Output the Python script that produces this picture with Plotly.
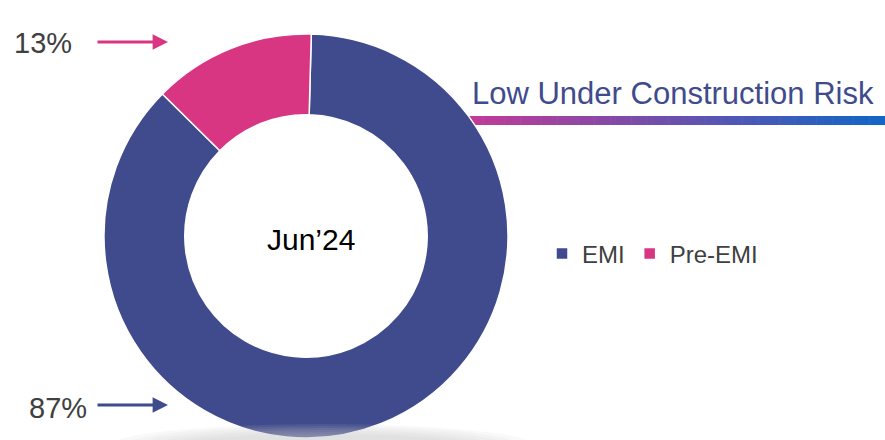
import plotly.graph_objects as go

# dados
labels = ["EMI", "Pre-EMI"]
values = [87, 13]
colors = ["#3F4B8C", "#D83682"]
centro = "Jun\u201924"
titulo = "Low Under Construction Risk"

W, H = 885, 440
fonte = "Liberation Sans, Arial, sans-serif"

fig = go.Figure()
fig.add_trace(go.Pie(
    labels=labels, values=values, hole=0.6, sort=False,
    direction="clockwise", rotation=1.5,
    marker=dict(colors=colors, line=dict(color="white", width=1.5)),
    textinfo="none", hoverinfo="label+percent",
    domain=dict(x=[104 / W, 508 / W], y=[2 / H, 406 / H]),
))

def px(x, y):
    return x / W, 1 - y / H

def texto(x, y, t, size, cor):
    ax_, ay_ = px(x, y)
    fig.add_annotation(x=ax_, y=ay_, xref="paper", yref="paper", text=t, showarrow=False,
                       xanchor="center", yanchor="middle",
                       font=dict(size=size, color=cor, family=fonte))

# texto central
texto(311, 239, centro, 30, "black")

# rótulos de porcentagem com setas
pos_rotulos = {"Pre-EMI": (43, 43), "EMI": (58, 408)}
pos_setas = {"Pre-EMI": 42, "EMI": 405}
for lab, val, cor in zip(labels, values, colors):
    tx, ty = pos_rotulos[lab]
    texto(tx, ty, f"{val}%", 29, "#404040")
    hx, hy = px(168, pos_setas[lab])
    fig.add_annotation(x=hx, y=hy, xref="paper", yref="paper", text="", showarrow=True,
                       ax=-72, ay=0, arrowhead=2, arrowsize=1.1, arrowwidth=2.8, arrowcolor=cor)

# titulo lateral
texto(673, 93, titulo, 31, "#3F4B8C")

# barra em gradiente (rosa -> azul)
c0 = (196, 58, 150)
c1 = (17, 102, 198)
n = 80
x0, x1 = 462, 885
for i in range(n):
    t = i / (n - 1)
    c = tuple(round(a + (b - a) * t) for a, b in zip(c0, c1))
    xa = x0 + (x1 - x0) * i / n
    xb = x0 + (x1 - x0) * (i + 1) / n + 0.6
    fig.add_shape(type="rect", xref="paper", yref="paper",
                  x0=xa / W, x1=xb / W, y0=1 - 125 / H, y1=1 - 116 / H,
                  fillcolor=f"rgb{c}", line=dict(width=0), layer="below")

# sombra suave embaixo da rosca
for k in range(6):
    fig.add_shape(type="circle", xref="paper", yref="paper",
                  x0=(110 + k * 14) / W, x1=(535 - k * 14) / W,
                  y0=1 - (468 - k * 2) / H, y1=1 - (424 + k * 2) / H,
                  fillcolor="rgba(200,200,200,0.11)", line=dict(width=0), layer="above")

fig.update_layout(
    width=W, height=H,
    margin=dict(l=0, r=0, t=0, b=0),
    paper_bgcolor="white", plot_bgcolor="white",
    showlegend=True,
    legend=dict(orientation="h", x=542 / W, y=1 - 254 / H, xanchor="left", yanchor="middle",
                font=dict(size=24, color="#404040", family=fonte),
                itemwidth=30, traceorder="normal"),
)

fig.write_html("out.html", config={"displayModeBar": False},
               post_script="document.body.style.margin='0';")
